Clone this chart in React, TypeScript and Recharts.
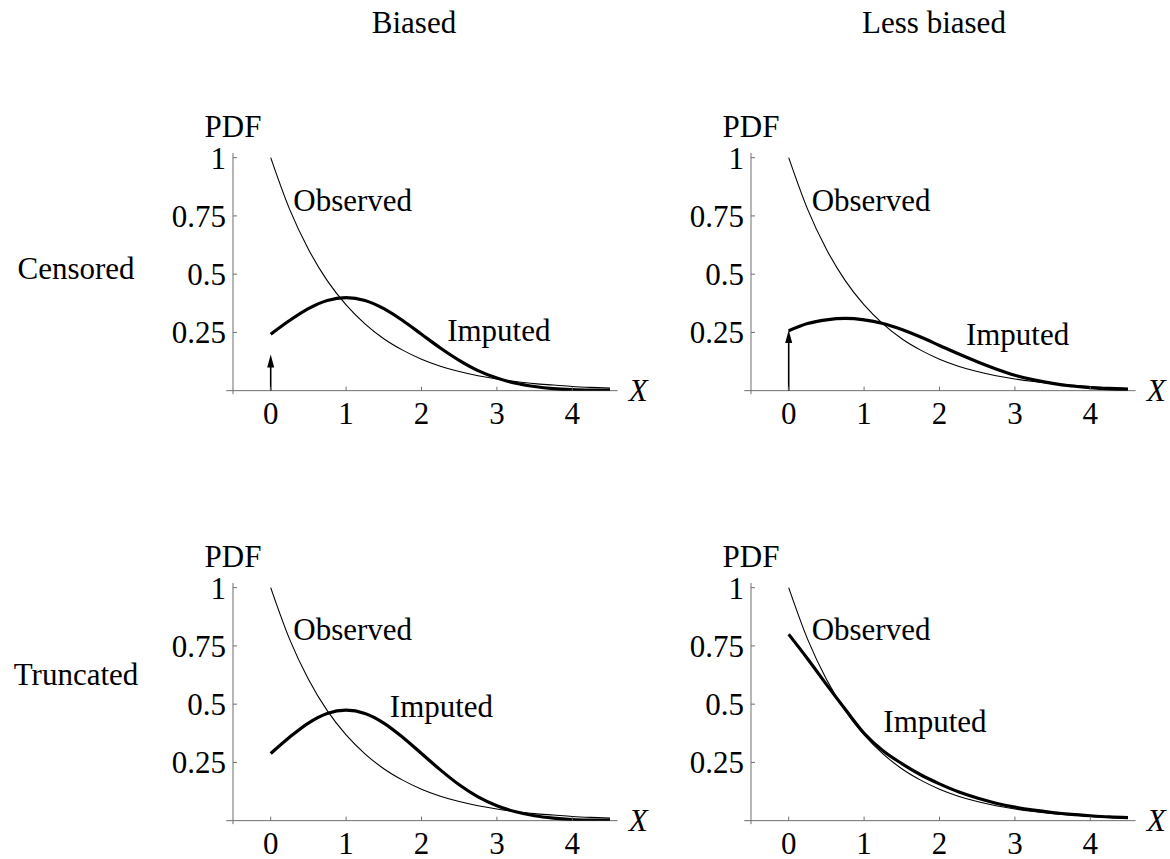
import React from "react";
import { LineChart, Line, XAxis, YAxis, ReferenceLine, ReferenceDot } from "recharts";

const X_GRID = [0, 0.25, 0.5, 0.75, 1, 1.25, 1.5, 1.75, 2, 2.25, 2.5, 2.75, 3, 3.25, 3.5, 3.75, 4, 4.25, 4.5];
const OBSERVED = [1, 0.779, 0.607, 0.472, 0.368, 0.287, 0.223, 0.174, 0.135, 0.105, 0.082, 0.064, 0.05, 0.039, 0.03, 0.024, 0.018, 0.014, 0.011];
const IMPUTED_CENSORED_BIASED = [0.242, 0.301, 0.352, 0.387, 0.399, 0.387, 0.352, 0.301, 0.242, 0.183, 0.13, 0.086, 0.054, 0.032, 0.018, 0.009, 0.0044, 0.002, 0.0009];
const IMPUTED_CENSORED_LESS = [0.257, 0.288, 0.304, 0.31, 0.304, 0.288, 0.262, 0.23, 0.194, 0.158, 0.124, 0.093, 0.066, 0.046, 0.031, 0.02, 0.013, 0.008, 0.005];
const IMPUTED_TRUNCATED_BIASED = [0.288, 0.358, 0.419, 0.46, 0.474, 0.46, 0.419, 0.358, 0.288, 0.218, 0.154, 0.102, 0.064, 0.038, 0.021, 0.011, 0.005, 0.0024, 0.001];
const IMPUTED_TRUNCATED_LESS = [0.8, 0.695, 0.585, 0.478, 0.375, 0.3, 0.245, 0.197, 0.158, 0.124, 0.097, 0.075, 0.058, 0.045, 0.035, 0.027, 0.021, 0.016, 0.013];
// height of the point mass drawn as an arrow at X = 0 (censored panels)
const SPIKE_BIASED = 0.155;
const SPIKE_LESS = 0.26;

const X_TICKS = [0, 1, 2, 3, 4];
const Y_TICKS = [0.25, 0.5, 0.75, 1];
const COLUMN_TITLES = ["Biased", "Less biased"];
const ROW_TITLES = ["Censored", "Truncated"];

const FONT = '"Liberation Serif", "Times New Roman", "DejaVu Serif", serif';
const FS = 31;
const AXIS = "#6e6e6e";
const TXT = { fontFamily: FONT, fontSize: FS };

// plot geometry (px)
const PX_X = 75.4;
const PX_Y = 233;
const X_DOMAIN: [number, number] = [-0.5, 4.6];
const Y_DOMAIN: [number, number] = [0, 1.02];
const PLOT_W = (X_DOMAIN[1] - X_DOMAIN[0]) * PX_X;
const PLOT_H = (Y_DOMAIN[1] - Y_DOMAIN[0]) * PX_Y;
const Y_AXIS_W = 70;
const X_AXIS_H = 45;
const TOP_M = 70;
const RIGHT_M = 60;
const CHART_W = Y_AXIS_W + PLOT_W + RIGHT_M;
const CHART_H = TOP_M + PLOT_H + X_AXIS_H;

const PANELS = [
  { plotLeft: 232.7, plotBottom: 391, imputed: IMPUTED_CENSORED_BIASED, spike: SPIKE_BIASED, obsAt: [0.3, 0.77], impAt: [2.34, 0.212] },
  { plotLeft: 751, plotBottom: 391, imputed: IMPUTED_CENSORED_LESS, spike: SPIKE_LESS, obsAt: [0.305, 0.77], impAt: [2.35, 0.198] },
  { plotLeft: 232.7, plotBottom: 820.5, imputed: IMPUTED_TRUNCATED_BIASED, spike: null, obsAt: [0.3, 0.775], impAt: [1.58, 0.445] },
  { plotLeft: 751, plotBottom: 820.5, imputed: IMPUTED_TRUNCATED_LESS, spike: null, obsAt: [0.305, 0.775], impAt: [1.255, 0.381] },
];

const XTick = ({ x, y, payload }: any) => (
  <g>
    <line x1={x} y1={y} x2={x} y2={y - 4} stroke={AXIS} />
    <text x={x} y={y + 33} textAnchor="middle" style={TXT} fill="#000">
      {payload.value}
    </text>
  </g>
);

const YTick = ({ x, y, payload }: any) => (
  <g>
    <line x1={x} y1={y} x2={x + 4} y2={y} stroke={AXIS} />
    <text x={x - 7} y={y + 11} textAnchor="end" style={TXT} fill="#000">
      {payload.value}
    </text>
  </g>
);

const textShape = (value: string, anchor: string, italic = false) => (p: any) => (
  <text x={p.cx} y={p.cy} textAnchor={anchor} style={{ ...TXT, fontStyle: italic ? "italic" : "normal" }} fill="#000">
    {value}
  </text>
);

const arrowHead = (p: any) => (
  <path d={`M${p.cx},${p.cy} L${p.cx - 3.5},${p.cy + 13} L${p.cx + 3.5},${p.cy + 13} Z`} fill="#000" />
);

function Panel({ panel }: { panel: (typeof PANELS)[number] }) {
  const data = X_GRID.map((x, i) => ({ x, obs: OBSERVED[i], imp: panel.imputed[i] }));
  const left = panel.plotLeft - Y_AXIS_W;
  const top = panel.plotBottom - PLOT_H - TOP_M;
  return (
    <div style={{ position: "absolute", left, top, width: CHART_W, height: CHART_H }}>
      <LineChart width={CHART_W} height={CHART_H} data={data} margin={{ top: TOP_M, right: RIGHT_M, bottom: 0, left: 0 }}>
        <XAxis
          dataKey="x"
          type="number"
          domain={X_DOMAIN}
          ticks={X_TICKS}
          allowDataOverflow
          axisLine={false}
          tickLine={false}
          tickSize={0}
          tickMargin={0}
          height={X_AXIS_H}
          tick={<XTick />}
        />
        <YAxis
          type="number"
          domain={Y_DOMAIN}
          ticks={Y_TICKS}
          allowDataOverflow
          axisLine={false}
          tickLine={false}
          tickSize={0}
          tickMargin={0}
          width={Y_AXIS_W}
          tick={<YTick />}
        />
        <ReferenceLine segment={[{ x: -0.59, y: 0 }, { x: 4.6, y: 0 }]} stroke={AXIS} strokeWidth={1} ifOverflow="visible" />
        <ReferenceLine segment={[{ x: -0.5, y: -0.015 }, { x: -0.5, y: 1.02 }]} stroke={AXIS} strokeWidth={1} ifOverflow="visible" />
        {panel.spike !== null && (
          <ReferenceLine segment={[{ x: 0, y: 0 }, { x: 0, y: panel.spike - 0.03 }]} stroke="#000" strokeWidth={1.6} ifOverflow="visible" />
        )}
        {panel.spike !== null && (
          <ReferenceDot x={0} y={panel.spike} r={0} ifOverflow="visible" shape={arrowHead} />
        )}
        <Line dataKey="obs" type="monotone" stroke="#000" strokeWidth={1.1} dot={false} isAnimationActive={false} />
        <Line dataKey="imp" type="monotone" stroke="#000" strokeWidth={3.2} dot={false} isAnimationActive={false} />
        <ReferenceDot x={panel.obsAt[0]} y={panel.obsAt[1]} r={0} ifOverflow="visible" shape={textShape("Observed", "start")} />
        <ReferenceDot x={panel.impAt[0]} y={panel.impAt[1]} r={0} ifOverflow="visible" shape={textShape("Imputed", "start")} />
        <ReferenceDot x={-0.5} y={1.09} r={0} ifOverflow="visible" shape={textShape("PDF", "middle")} />
        <ReferenceDot x={4.75} y={-0.043} r={0} ifOverflow="visible" shape={textShape("X", "start", true)} />
      </LineChart>
    </div>
  );
}

export default function App() {
  return (
    <div style={{ position: "absolute", left: 0, top: 0, width: 1170, height: 859, background: "#fff", overflow: "hidden" }}>
      <svg width={1170} height={859} style={{ position: "absolute", left: 0, top: 0 }}>
        <text x={414} y={33} textAnchor="middle" style={TXT}>{COLUMN_TITLES[0]}</text>
        <text x={934} y={33} textAnchor="middle" style={TXT}>{COLUMN_TITLES[1]}</text>
        <text x={76} y={279} textAnchor="middle" style={TXT}>{ROW_TITLES[0]}</text>
        <text x={76} y={685} textAnchor="middle" style={TXT}>{ROW_TITLES[1]}</text>
      </svg>
      {PANELS.map((p, i) => (
        <Panel key={i} panel={p} />
      ))}
    </div>
  );
}
